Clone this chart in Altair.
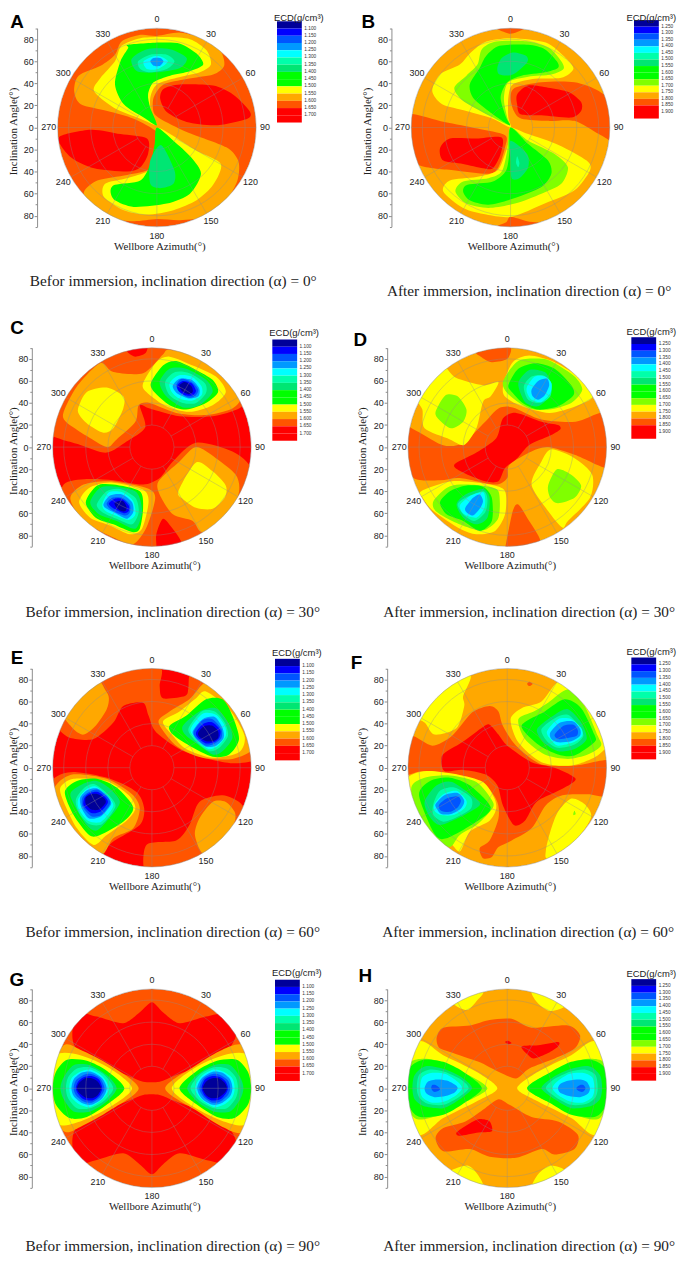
import math
import altair as alt
import pandas as pd

# ECD colour levels, low to high
LEVEL_KEYS = ['nv', 'bl', 'b2', 'b3', 'cy', 'sp', 'te', 'gr', 'lg', 'ye', 'or', 'do', 're']
LEVEL_COLORS = ['#000099', '#0000ff', '#0055ff', '#0099ff', '#00ffff', '#00ffaa', '#00e673',
                '#00ff00', '#80ff00', '#ffff00', '#ffa800', '#ff5500', '#ff0000']

BEFORE_LABELS = ['1.100', '1.150', '1.200', '1.250', '1.300', '1.350', '1.400', '1.450',
                 '1.500', '1.550', '1.600', '1.650', '1.700']
BEFORE_BLOCKS = ['nv', 'bl', 'b2', 'b3', 'cy', 'sp', 'te', 'gr', 'gr', 'ye', 'or', 'do', 're', 're']
AFTER_LABELS = ['1.250', '1.300', '1.350', '1.400', '1.450', '1.500', '1.550', '1.600', '1.650',
                '1.700', '1.750', '1.800', '1.850', '1.900']
AFTER_BLOCKS = ['nv', 'bl', 'b2', 'b3', 'cy', 'sp', 'te', 'gr', 'gr', 'lg', 'ye', 'or', 'do', 're', 're']

AZIMUTHS = [0, 30, 60, 90, 120, 150, 180, 210, 240, 270, 300, 330]
RINGS = [20, 40, 60, 80]
INCL_TICKS = [-80, -60, -40, -20, 0, 20, 40, 60, 80]
INCL_MINOR = [-90, -70, -50, -30, -10, 10, 30, 50, 70, 90]

# contour regions per panel, in draw order: (level, [(east, north), ...]) in inclination degrees
PANEL_A = [
    ('or', [(0,83),(21,86),(45,80),(58,69),(61,56),(51,48),(27,44),(6,39),(-3,27),(-3,14),(3,8),(27,-4),(63,-18),(74,-31),(73,-48),(63,-66),(45,-81),(21,-84),(0,-83),(-21,-85),(-42,-82),(-62,-69),(-66,-58),(-54,-48),(-27,-43),(-6,-37),(-1,-15),(0,-4),(-21,8),(-45,15),(-69,21),(-75,33),(-71,47),(-51,56),(-38,66),(-32,78),(-15,84)]),
    ('ye', [(9,82),(30,80),(45,70),(49,57),(39,50),(18,45),(0,39),(-6,27),(-5,12),(0,2),(-15,8),(-39,18),(-57,33),(-51,45),(-38,60),(-32,74),(-15,81)]),
    ('ye', [(0,-1),(9,-4),(36,-21),(58,-33),(51,-52),(36,-66),(15,-75),(-9,-79),(-30,-75),(-48,-63),(-47,-51),(-27,-46),(-9,-40),(-3,-30),(0,-15)]),
    ('gr', [(-26,75),(3,77),(21,76),(36,67),(42,57),(30,51),(12,47),(-3,41),(-8,30),(-6,18),(0,2),(-12,9),(-30,21),(-38,39),(-33,60),(-26,72)]),
    ('gr', [(0,0),(15,-12),(31,-27),(40,-42),(30,-60),(9,-69),(-21,-72),(-38,-66),(-42,-58),(-38,-52),(-15,-48),(-6,-33),(-2,-15)]),
    ('te', [(-23,62),(-9,71),(12,71),(27,63),(21,54),(0,50),(-18,51)]),
    ('te', [(4,-16),(16,-39),(15,-51),(3,-55),(-6,-51),(-6,-30)]),
    ('sp', [(-17,60),(-6,66),(9,66),(16,60),(9,53),(-6,50),(-15,53)]),
    ('cy', [(-12,60),(0,65),(10,60),(1,53),(-9,53)]),
    ('b3', [(-6,60),(-3,63),(3,63),(6,60),(3,56),(-3,56)]),
    ('re', [(6,35),(21,39),(51,38),(69,30),(84,15),(82,8),(54,2),(27,5),(9,14),(3,26)]),
    ('re', [(-89,-9),(-60,-2),(-33,-6),(-9,-10),(-8,-24),(-15,-36),(-27,-40),(-57,-37),(-78,-27)]),
]
PANEL_B = [
    ('do', [(-24,95),(24,95),(12,89),(0,85),(-12,89)]),
    ('do', [(-14,-92),(-4,-86),(0,-81),(15,-85),(35,-88),(30,-95)]),
    ('do', [(4,36),(28,41),(58,41),(80,33),(95,18),(95,-12),(80,-6),(58,6),(34,6),(10,8),(3,15),(0,27)]),
    ('do', [(-95,12),(-60,5),(-30,-1),(-5,-7),(-5,-18),(-11,-36),(-20,-42),(-50,-39),(-83,-34),(-95,-15)]),
    ('re', [(6,30),(16,38),(34,36),(53,32),(64,23),(64,15),(55,9),(28,11),(9,12),(6,21)]),
    ('re', [(-64,-19),(-55,-10),(-31,-10),(-8,-9),(-9,-24),(-16,-37),(-25,-37),(-43,-33),(-61,-30)]),
    ('ye', [(-36,68),(-22,78),(2,81),(32,77),(50,63),(57,53),(46,45),(20,44),(2,39),(-2,27),(-2,9),(0,0),(-16,8),(-40,15),(-62,21),(-71,33),(-64,48),(-46,57)]),
    ('ye', [(0,0),(16,-6),(44,-16),(69,-30),(72,-39),(58,-57),(31,-69),(1,-81),(-22,-79),(-43,-73),(-61,-58),(-55,-48),(-31,-45),(-12,-39),(-4,-21),(-1,-9)]),
    ('lg', [(-26,71),(-13,78),(16,78),(35,72),(46,60),(48,53),(37,48),(16,46),(-2,41),(-6,26),(-3,9),(-1,2),(-20,11),(-43,24),(-51,36),(-40,47),(-30,57)]),
    ('lg', [(0,0),(16,-12),(40,-24),(52,-36),(46,-51),(28,-60),(4,-69),(-20,-73),(-40,-69),(-50,-58),(-43,-49),(-20,-46),(-8,-40),(-3,-21)]),
    ('gr', [(-22,65),(-10,74),(16,75),(31,71),(42,60),(43,54),(31,50),(10,47),(-3,41),(-9,27),(-4,9),(-1,2),(-20,15),(-34,27),(-37,39),(-28,54)]),
    ('gr', [(0,0),(16,-15),(34,-30),(37,-42),(28,-54),(4,-64),(-20,-70),(-37,-66),(-43,-58),(-39,-52),(-16,-49),(-4,-39),(-1,-21)]),
    ('te', [(-12,54),(-8,63),(2,68),(14,65),(15,59),(2,48),(-10,48)]),
    ('te', [(0,-12),(15,-24),(16,-36),(8,-46),(1,-46),(0,-30)]),
    ('sp', [(6,-26),(8,-32),(7,-36),(5,-32)]),
]
PANEL_C = [
    ('do', [(-95,13),(-65,2),(-41,-5),(-23,5),(-6,18),(-11,38),(-2,35),(25,28),(55,28),(79,35),(85,45),(70,75),(30,92),(-5,98),(-50,85),(-80,60),(-95,35)]),
    ('re', [(-23,90),(-5,92),(-6,85),(-15,82),(-21,85)]),
    ('do', [(-80,-34),(-59,-29),(-35,-30),(-8,-34),(7,-28),(19,-13),(40,4),(73,-4),(90,-20),(85,-50),(65,-80),(30,-95),(-20,-95),(-60,-85),(-85,-60)]),
    ('re', [(4,-91),(4,-79),(10,-65),(18,-73),(27,-88),(14,-97),(1,-97)]),
    ('or', [(-80,32),(-68,55),(-47,76),(-35,68),(-8,67),(10,84),(16,88),(50,82),(68,62),(81,46),(73,35),(49,29),(22,31),(-2,40),(-12,38),(-15,23),(-32,7),(-41,0),(-59,10),(-78,23)]),
    ('ye', [(-67,35),(-59,50),(-41,54),(-26,46),(-26,35),(-35,17),(-44,13),(-57,20),(-65,28)]),
    ('ye', [(-8,58),(4,77),(16,82),(37,74),(58,64),(67,50),(55,38),(34,32),(13,37),(-5,50)]),
    ('gr', [(-1,58),(10,74),(22,78),(40,70),(55,61),(60,50),(49,40),(31,34),(16,38),(3,49)]),
    ('te', [(7,59),(16,71),(31,71),(49,61),(55,50),(43,38),(28,36),(13,46)]),
    ('sp', [(12,59),(21,68),(34,67),(48,58),(49,49),(40,40),(28,40),(16,47)]),
    ('cy', [(16,58),(24,65),(36,64),(45,55),(45,47),(36,42),(25,44),(18,50)]),
    ('b3', [(19,56),(25,62),(36,61),(43,53),(42,46),(34,44),(24,48),(20,52)]),
    ('b2', [(22,56),(27,62),(36,59),(42,52),(39,46),(33,45),(25,50)]),
    ('bl', [(23,56),(28,60),(36,58),(40,51),(37,47),(30,47),(24,51)]),
    ('nv', [(25,56),(30,59),(36,55),(37,50),(33,48),(27,51)]),
    ('or', [(6,-31),(25,-13),(40,0),(58,-10),(76,-25),(79,-40),(70,-64),(46,-77),(37,-67),(19,-61),(7,-43)]),
    ('or', [(-74,-46),(-62,-34),(-38,-31),(-5,-37),(3,-46),(-5,-73),(-17,-88),(-35,-82),(-53,-73),(-65,-64)]),
    ('ye', [(24,-40),(40,-14),(55,-22),(67,-35),(66,-46),(55,-56),(40,-55),(28,-47)]),
    ('ye', [(-66,-50),(-57,-37),(-38,-32),(-9,-38),(-3,-49),(-9,-74),(-20,-79),(-38,-71),(-56,-64)]),
    ('gr', [(-60,-50),(-50,-35),(-35,-34),(-11,-40),(-8,-55),(-11,-74),(-18,-77),(-35,-70),(-51,-64)]),
    ('te', [(-56,-50),(-47,-37),(-32,-36),(-14,-41),(-9,-58),(-15,-74),(-32,-67),(-48,-61)]),
    ('sp', [(-50,-52),(-41,-40),(-29,-38),(-15,-46),(-12,-59),(-18,-70),(-32,-65),(-45,-59)]),
    ('cy', [(-45,-52),(-39,-41),(-27,-41),(-17,-49),(-15,-61),(-21,-66),(-33,-62),(-42,-58)]),
    ('b3', [(-44,-52),(-38,-44),(-27,-43),(-18,-50),(-17,-59),(-23,-65),(-33,-60),(-41,-56)]),
    ('b2', [(-41,-51),(-36,-46),(-27,-46),(-20,-52),(-20,-59),(-24,-62),(-33,-59),(-39,-55)]),
    ('bl', [(-39,-51),(-34,-47),(-27,-47),(-21,-53),(-21,-58),(-25,-60),(-32,-57),(-37,-54)]),
    ('nv', [(-34,-51),(-31,-49),(-26,-49),(-23,-54),(-24,-58),(-28,-58),(-32,-55)]),
]
PANEL_D = [
    ('do', [(-95,20),(-59,2),(-40,4),(-20,23),(-8,35),(5,36),(31,25),(62,23),(87,31),(97,15),(97,-20),(61,-7),(37,0),(22,-4),(2,-16),(0,-28),(-11,-34),(-43,-28),(-61,-30),(-85,-28),(-97,-5)]),
    ('re', [(-48,-16),(-28,-5),(-10,8),(-4,26),(8,31),(31,23),(46,20),(48,16),(38,10),(20,2),(9,-10),(-2,-19),(-8,-31),(-20,-31),(-40,-23)]),
    ('do', [(-27,86),(2,91),(0,80),(-14,77),(-24,82)]),
    ('do', [(-2,-92),(5,-58),(10,-52),(18,-64),(30,-85),(20,-94),(-2,-95)]),
    ('ye', [(-77,34),(-84,50),(-62,76),(-47,63),(-22,56),(-8,59),(-15,46),(-22,41),(-28,17),(-39,2),(-52,7),(-75,17)]),
    ('lg', [(-65,32),(-56,47),(-45,46),(-37,34),(-40,23),(-51,17),(-62,25)]),
    ('ye', [(-3,59),(5,77),(20,83),(43,77),(67,62),(78,46),(62,37),(38,31),(11,38),(-3,47)]),
    ('lg', [(-4,59),(10,78),(32,80),(43,76),(61,64),(68,52),(58,40),(38,34),(20,35),(2,47)]),
    ('gr', [(1,56),(10,71),(26,76),(43,71),(58,56),(60,47),(46,37),(28,34),(14,40),(5,49)]),
    ('te', [(10,58),(20,70),(34,68),(39,59),(38,46),(28,37),(16,41)]),
    ('sp', [(15,55),(22,64),(33,65),(40,58),(39,46),(30,40),(19,43)]),
    ('cy', [(18,55),(25,64),(34,64),(40,58),(39,49),(31,41),(22,43),(18,49)]),
    ('b3', [(22,52),(28,60),(36,62),(38,56),(34,47),(28,43),(23,46)]),
    ('ye', [(22,-34),(31,-13),(40,-2),(61,-10),(77,-25),(75,-46),(55,-67),(50,-73),(37,-58)]),
    ('lg', [(37,-35),(45,-20),(58,-25),(67,-35),(61,-46),(46,-51),(39,-46)]),
    ('ye', [(-78,-40),(-50,-31),(-16,-34),(-2,-40),(-2,-61),(-11,-76),(-28,-79),(-43,-74),(-67,-58),(-76,-47)]),
    ('lg', [(-67,-49),(-55,-37),(-43,-34),(-22,-35),(-8,-40),(-8,-64),(-20,-75),(-32,-74),(-50,-67),(-65,-58)]),
    ('gr', [(-61,-50),(-52,-40),(-38,-35),(-22,-36),(-14,-46),(-14,-67),(-25,-76),(-40,-67),(-55,-61)]),
    ('te', [(-46,-52),(-38,-43),(-22,-38),(-16,-46),(-18,-64),(-28,-70),(-40,-64)]),
    ('sp', [(-45,-52),(-38,-46),(-22,-40),(-18,-47),(-20,-59),(-30,-67),(-40,-61)]),
    ('cy', [(-43,-53),(-33,-44),(-22,-41),(-20,-47),(-21,-56),(-28,-64),(-39,-61)]),
    ('b3', [(-38,-55),(-31,-46),(-25,-43),(-22,-49),(-25,-56),(-31,-62),(-37,-59)]),
]
PANEL_E = [
    ('do', [(-83,33),(-74,27),(-53,26),(-35,41),(-26,56),(-8,59),(-3,47),(4,32),(31,14),(73,4),(100,11),(97,41),(67,80),(40,92),(34,84),(33,72),(30,65),(10,63),(7,74),(7,92),(-32,95),(-68,77),(-95,44)]),
    ('or', [(-72,36),(-80,52),(-52,80),(-42,70),(-39,63),(-41,53),(-51,38),(-62,30)]),
    ('or', [(6,41),(16,51),(34,62),(48,77),(62,72),(85,45),(92,18),(73,8),(46,9),(22,20)]),
    ('ye', [(10,42),(25,51),(40,63),(49,69),(70,53),(84,29),(79,14),(55,9),(31,17),(19,29)]),
    ('gr', [(16,38),(31,47),(49,62),(64,62),(73,47),(79,26),(70,12),(55,10),(34,20),(19,30)]),
    ('te', [(28,38),(43,51),(58,54),(69,41),(73,27),(64,15),(55,12),(39,23),(30,30)]),
    ('sp', [(33,35),(45,51),(57,51),(66,41),(69,29),(61,18),(52,15),(40,24)]),
    ('cy', [(35,35),(46,49),(58,48),(66,38),(67,29),(60,20),(51,17),(40,26)]),
    ('b3', [(37,33),(46,44),(57,46),(64,36),(65,27),(58,20),(49,19),(40,26)]),
    ('b2', [(38,33),(46,43),(55,44),(63,35),(63,27),(57,22),(49,20),(40,27)]),
    ('bl', [(40,32),(47,40),(55,41),(62,34),(61,27),(56,23),(49,22),(42,27)]),
    ('nv', [(42,32),(48,38),(55,38),(60,33),(60,27),(55,24),(49,24),(43,28)]),
    ('do', [(-89,-10),(-71,-4),(-38,-10),(-14,-22),(-7,-37),(-11,-52),(-35,-67),(-44,-76),(-56,-85),(-80,-65),(-100,-30)]),
    ('do', [(-5,-70),(22,-66),(34,-52),(43,-31),(64,-25),(82,-34),(90,-60),(60,-88),(25,-97),(-5,-97)]),
    ('or', [(39,-61),(43,-46),(55,-31),(67,-31),(75,-40),(75,-49),(66,-65),(47,-78)]),
    ('or', [(-87,-16),(-71,-6),(-41,-10),(-18,-24),(-11,-37),(-17,-55),(-35,-64),(-44,-78),(-56,-75),(-74,-55),(-95,-40)]),
    ('ye', [(-83,-18),(-71,-10),(-41,-12),(-21,-25),(-15,-37),(-23,-48),(-41,-61),(-53,-70),(-68,-55),(-80,-31)]),
    ('gr', [(-79,-22),(-68,-12),(-50,-10),(-32,-18),(-17,-36),(-26,-49),(-47,-61),(-57,-61),(-71,-43)]),
    ('te', [(-74,-25),(-63,-15),(-50,-12),(-38,-19),(-29,-31),(-38,-45),(-50,-57),(-60,-51)]),
    ('sp', [(-69,-29),(-61,-18),(-52,-15),(-40,-24),(-33,-35),(-45,-51),(-57,-51),(-66,-41)]),
    ('cy', [(-67,-29),(-60,-20),(-51,-17),(-40,-26),(-35,-35),(-46,-49),(-58,-48),(-66,-38)]),
    ('b3', [(-65,-27),(-58,-20),(-49,-19),(-40,-26),(-37,-33),(-46,-44),(-57,-46),(-64,-36)]),
    ('b2', [(-63,-27),(-57,-22),(-49,-20),(-40,-27),(-38,-33),(-46,-43),(-55,-44),(-63,-35)]),
    ('bl', [(-61,-27),(-56,-23),(-49,-22),(-42,-27),(-40,-32),(-47,-40),(-55,-41),(-62,-34)]),
    ('nv', [(-60,-27),(-55,-24),(-49,-24),(-43,-28),(-42,-32),(-48,-38),(-55,-38),(-60,-33)]),
]
PANEL_F = [
    ('ye', [(-75,41),(-66,30),(-46,36),(-39,56),(-40,65),(-33,83),(-45,88),(-70,75),(-90,50)]),
    ('do', [(-88,29),(-68,20),(-50,29),(-32,50),(-16,56),(-8,51),(-4,38),(8,20),(31,3),(62,2),(95,6),(95,-25),(73,-24),(50,-25),(35,-34),(22,-55),(4,-66),(-8,-72),(-14,-81),(-22,-82),(-25,-73),(-16,-66),(-8,-46),(-9,-31),(-20,-16),(-43,-7),(-76,-3),(-95,-7),(-98,10)]),
    ('re', [(-59,11),(-41,23),(-22,37),(-16,39),(-8,30),(0,20),(22,5),(43,0),(62,-10),(50,-19),(31,-28),(24,-34),(16,-48),(6,-52),(-4,-34),(-9,-16),(-20,-6),(-40,-2),(-57,-3)]),
    ('do', [(18,76),(20,78),(23,76),(20,74)]),
    ('ye', [(3,44),(13,54),(31,60),(45,77),(60,78),(85,50),(95,28),(82,11),(58,2),(31,5),(10,23)]),
    ('lg', [(10,44),(24,51),(37,59),(55,71),(70,56),(82,29),(85,20),(73,12),(55,8),(34,12),(16,26)]),
    ('gr', [(13,38),(34,51),(52,62),(67,54),(79,30),(79,23),(61,11),(46,12),(28,21)]),
    ('te', [(27,35),(43,48),(55,53),(67,41),(72,26),(61,17),(46,15),(33,23)]),
    ('sp', [(31,35),(45,46),(55,48),(64,39),(69,29),(61,21),(46,18),(36,24)]),
    ('cy', [(36,33),(46,44),(58,44),(67,36),(68,29),(60,23),(46,20),(39,26)]),
    ('b3', [(39,32),(48,41),(60,42),(66,35),(66,29),(58,24),(46,23),(40,26)]),
    ('b2', [(43,30),(51,38),(60,39),(64,34),(63,29),(55,27),(46,26)]),
    ('ye', [(35,-75),(39,-58),(46,-40),(58,-28),(70,-33),(76,-45),(61,-67),(37,-82)]),
    ('lg', [(61,-39),(62,-42),(60,-43),(60,-41)]),
    ('ye', [(-90,-9),(-73,-3),(-46,-6),(-22,-13),(-12,-27),(-10,-37),(-16,-48),(-34,-58),(-43,-76),(-53,-67),(-70,-60),(-92,-30)]),
    ('lg', [(-87,-18),(-75,-9),(-52,-7),(-28,-13),(-13,-31),(-15,-39),(-28,-52),(-43,-61),(-52,-72),(-64,-64),(-81,-46)]),
    ('gr', [(-80,-25),(-70,-12),(-52,-9),(-34,-16),(-15,-36),(-28,-49),(-55,-64),(-66,-60)]),
    ('te', [(-75,-31),(-64,-16),(-50,-13),(-30,-27),(-25,-34),(-43,-45),(-61,-52),(-70,-45)]),
    ('sp', [(-67,-33),(-61,-21),(-48,-18),(-33,-27),(-33,-37),(-46,-45),(-58,-49),(-67,-43)]),
    ('cy', [(-66,-33),(-58,-24),(-46,-21),(-37,-30),(-39,-37),(-49,-43),(-60,-43),(-66,-39)]),
    ('b3', [(-65,-33),(-57,-25),(-45,-23),(-39,-30),(-42,-37),(-51,-42),(-60,-42),(-64,-37)]),
    ('b2', [(-62,-34),(-55,-28),(-45,-26),(-42,-30),(-45,-36),(-52,-40),(-60,-39)]),
]
PANEL_G = [
    ('re', [(-72,45),(-68,68),(-50,65),(-26,59),(-11,69),(0,78),(10,69),(25,59),(49,65),(72,68),(76,47),(61,27),(22,12),(7,6),(-8,6),(-23,12),(-62,27)]),
    ('re', [(-72,-45),(-68,-68),(-50,-65),(-26,-59),(-11,-69),(0,-78),(10,-69),(25,-59),(49,-65),(72,-68),(76,-47),(61,-27),(22,-12),(7,-6),(-8,-6),(-23,-12),(-62,-27)]),
    ('or', [(-81,38),(-65,35),(-38,21),(-12,0),(-38,-20),(-65,-35),(-81,-38),(-100,0)]),
    ('ye', [(-87,30),(-65,30),(-38,18),(-18,0),(-38,-17),(-65,-30),(-87,-32),(-100,0)]),
    ('gr', [(-87,15),(-77,26),(-59,25),(-41,16),(-25,0),(-41,-15),(-59,-26),(-75,-27),(-87,-15),(-90,0)]),
    ('te', [(-80,10),(-71,21),(-56,21),(-41,12),(-32,0),(-41,-12),(-56,-21),(-71,-21),(-80,-10),(-83,0)]),
    ('sp', [(-76,10),(-68,18),(-56,19),(-43,12),(-35,0),(-43,-11),(-56,-18),(-68,-18),(-76,-9),(-78,0)]),
    ('cy', [(-73,9),(-65,15),(-56,17),(-45,11),(-39,0),(-45,-10),(-56,-17),(-65,-15),(-73,-8),(-75,0)]),
    ('b3', [(-71,8),(-64,14),(-55,15),(-45,9),(-41,0),(-45,-9),(-55,-15),(-64,-13),(-71,-7),(-73,0)]),
    ('b2', [(-69,7),(-62,12),(-55,13),(-47,9),(-43,0),(-47,-8),(-55,-13),(-62,-12),(-69,-6),(-71,0)]),
    ('bl', [(-67,6),(-62,10),(-54,11),(-48,8),(-45,0),(-48,-7),(-54,-11),(-62,-10),(-67,-5),(-69,0)]),
    ('nv', [(-66,5),(-61,9),(-54,9),(-49,6),(-46,0),(-49,-6),(-54,-9),(-61,-8),(-66,-4),(-68,0)]),
    ('or', [(12,0),(40,21),(64,35),(84,38),(100,0),(84,-39),(64,-35),(40,-20)]),
    ('ye', [(18,0),(38,18),(65,30),(87,30),(100,0),(87,-32),(65,-30),(38,-17)]),
    ('gr', [(25,0),(41,16),(59,25),(77,26),(87,15),(90,0),(87,-15),(75,-27),(59,-26),(41,-15)]),
    ('te', [(32,0),(41,12),(56,21),(71,21),(80,10),(83,0),(80,-10),(71,-21),(56,-21),(41,-12)]),
    ('sp', [(35,0),(43,12),(56,19),(68,18),(76,10),(78,0),(76,-9),(68,-18),(56,-18),(43,-11)]),
    ('cy', [(39,0),(45,11),(56,17),(65,15),(73,9),(75,0),(73,-8),(65,-15),(56,-17),(45,-10)]),
    ('b3', [(41,0),(45,9),(55,15),(64,14),(71,8),(73,0),(71,-7),(64,-13),(55,-15),(45,-9)]),
    ('b2', [(43,0),(47,9),(55,13),(62,12),(69,7),(71,0),(69,-6),(62,-12),(55,-13),(47,-8)]),
    ('bl', [(45,0),(48,8),(54,11),(62,10),(67,6),(69,0),(67,-5),(62,-10),(54,-11),(48,-7)]),
    ('nv', [(46,0),(49,6),(54,9),(61,9),(66,5),(68,0),(66,-4),(61,-8),(54,-9),(49,-6)]),
]
PANEL_H = [
    ('ye', [(-47,75),(-36,71),(-27,80),(-22,88),(-40,92),(-55,85)]),
    ('ye', [(22,87),(28,77),(39,70),(53,75),(50,90),(30,95)]),
    ('ye', [(-52,-75),(-36,-70),(-27,-78),(-22,-90),(-40,-95),(-60,-85)]),
    ('ye', [(22,-90),(28,-78),(39,-70),(53,-75),(50,-90),(30,-95)]),
    ('do', [(-64,46),(-58,55),(-34,57),(-16,62),(4,63),(22,55),(55,57),(66,48),(61,36),(43,27),(20,18),(8,9),(-8,15),(-26,24),(-52,33),(-62,37)]),
    ('do', [(-65,-45),(-58,-36),(-38,-30),(-20,-18),(-8,-10),(2,-15),(22,-26),(46,-30),(64,-42),(61,-55),(43,-60),(31,-55),(8,-63),(-16,-62),(-34,-55),(-58,-57)]),
    ('re', [(-2,42),(1,43),(4,41),(1,40)]),
    ('re', [(13,38),(28,39),(46,42),(46,38),(37,32),(24,27),(18,31)]),
    ('re', [(-46,-40),(-36,-33),(-26,-28),(-16,-30),(-14,-39),(-26,-40),(-43,-43)]),
    ('ye', [(-81,42),(-58,30),(-28,15),(-9,0),(-28,-12),(-58,-27),(-81,-42),(-100,0)]),
    ('lg', [(-87,24),(-67,26),(-43,16),(-18,0),(-43,-15),(-64,-25),(-84,-27),(-96,0)]),
    ('gr', [(-88,19),(-76,26),(-58,24),(-40,15),(-23,0),(-40,-14),(-58,-24),(-79,-26),(-88,-18),(-92,0)]),
    ('te', [(-84,12),(-74,20),(-56,17),(-40,9),(-32,0),(-43,-10),(-58,-18),(-76,-16),(-84,-10),(-86,0)]),
    ('sp', [(-80,12),(-70,17),(-57,15),(-42,8),(-35,0),(-44,-8),(-58,-15),(-72,-14),(-80,-8),(-82,0)]),
    ('cy', [(-77,10),(-68,14),(-56,13),(-45,6),(-41,0),(-46,-6),(-57,-12),(-68,-13),(-77,-8),(-79,0)]),
    ('b3', [(-72,6),(-64,8),(-55,7),(-47,3),(-45,0),(-48,-4),(-56,-7),(-66,-8),(-73,-5),(-75,0)]),
    ('b2', [(-68,3),(-65,3),(-62,1),(-61,-1),(-64,-3),(-67,-3),(-69,0)]),
    ('ye', [(9,0),(28,15),(58,30),(81,42),(100,0),(81,-42),(58,-27),(28,-12)]),
    ('lg', [(18,0),(43,16),(67,26),(87,24),(96,0),(84,-27),(64,-25),(43,-15)]),
    ('gr', [(18,0),(40,15),(58,24),(76,26),(88,19),(92,0),(88,-18),(79,-26),(58,-24),(40,-14)]),
    ('te', [(31,0),(40,9),(56,17),(74,20),(84,12),(86,0),(84,-10),(76,-16),(58,-18),(43,-10)]),
    ('sp', [(35,0),(42,8),(57,15),(70,17),(80,12),(82,0),(80,-8),(72,-14),(58,-15),(44,-8)]),
    ('cy', [(41,0),(45,6),(56,13),(68,14),(77,10),(79,0),(77,-8),(68,-13),(57,-12),(46,-6)]),
    ('b3', [(46,0),(48,4),(56,7),(66,8),(72,6),(75,0),(73,-5),(66,-8),(56,-7),(48,-4)]),
    ('b2', [(63,1),(66,3),(69,3),(71,0),(69,-3),(66,-3),(63,-1)]),
]

CAPTIONS = {
    'A': 'Befor immersion, inclination direction (α) = 0°',
    'B': 'After immersion, inclination direction (α) = 0°',
    'C': 'Befor immersion, inclination direction (α) = 30°',
    'D': 'After immersion, inclination direction (α) = 30°',
    'E': 'Befor immersion, inclination direction (α) = 60°',
    'F': 'After immersion, inclination direction (α) = 60°',
    'G': 'Befor immersion, inclination direction (α) = 90°',
    'H': 'After immersion, inclination direction (α) = 90°',
}

COL_LEFT = [8, 345]
COL_WIDTH = 300
COL_GAP = 37
ROW_TOP = [8, 328, 648, 968]
ROW_HEIGHT = 285
ROW_GAP = 35
RADIUS = 100

# page positions: disc centre, axis x, legend box, letter, caption
LAYOUT = {
    'A': dict(col=0, row=0, base='do', poly=PANEL_A, c=(157, 123.7), ax=36.3, leg=(278, 16.7, 118.7), let=(16, 17.5), cap=(173.5, 278), legt=13),
    'B': dict(col=1, row=0, base='or', poly=PANEL_B, c=(513.3, 123.7), ax=393.3, leg=(637.7, 15.5, 114.7), let=(370, 17.5), cap=(532, 288), legt=13),
    'C': dict(col=0, row=1, base='re', poly=PANEL_C, c=(152, 445.7), ax=31, leg=(273.3, 337.3, 439.3), let=(16, 326), cap=(173, 611.7), legt=331),
    'D': dict(col=1, row=1, base='or', poly=PANEL_D, c=(510, 445.7), ax=389, leg=(635, 335, 437.3), let=(362, 338), cap=(532, 611.7), legt=330),
    'E': dict(col=0, row=2, base='re', poly=PANEL_E, c=(152, 768.7), ax=31, leg=(276, 659, 761.3), let=(16, 658), cap=(173, 934), legt=653),
    'F': dict(col=1, row=2, base='or', poly=PANEL_F, c=(510, 768.7), ax=389, leg=(635, 657.7, 760.3), let=(358, 663), cap=(531, 934), legt=652),
    'G': dict(col=0, row=3, base='do', poly=PANEL_G, c=(152, 1091.7), ax=31, leg=(276, 982.3, 1084.3), let=(16, 983), cap=(173, 1251), legt=976),
    'H': dict(col=1, row=3, base='or', poly=PANEL_H, c=(510, 1091.7), ax=389, leg=(635, 981.7, 1084), let=(367, 979), cap=(532, 1251), legt=977),
}


def disc_size(r):
    # vega symbol size for a circle of radius r
    return (2 * r) ** 2


def label_mark(text, x, y, size, font='Liberation Sans', color='#222222', **kw):
    src = alt.Chart(pd.DataFrame({'t': [text]}))
    return src.mark_text(fontSize=size, font=font, color=color, clip=False, **kw).encode(
        text='t:N', x=alt.value(x), y=alt.value(y))


def make_panel(name):
    p = LAYOUT[name]
    left, top = COL_LEFT[p['col']], ROW_TOP[p['row']]
    cx, cy = p['c'][0] - left, p['c'][1] - top

    x_scale = alt.Scale(domain=[-90, 90], range=[cx - RADIUS, cx + RADIUS])
    y_scale = alt.Scale(domain=[-90, 90], range=[cy + RADIUS, cy - RADIUS])
    xe = alt.X('x:Q', scale=x_scale, axis=None)
    ye = alt.Y('y:Q', scale=y_scale, axis=None)
    origin = pd.DataFrame({'x': [0], 'y': [0]})
    layers = []

    # base disc with real inclination axis
    y_axis = alt.Axis(values=INCL_TICKS, labelExpr='abs(datum.value)', title=None, grid=False,
                      offset=-(p['ax'] - left), zindex=1, orient='left', domainColor='#8c8c8c',
                      tickColor='#8c8c8c', tickSize=3, labelFont='Liberation Sans', labelFontSize=9,
                      labelColor='#222222', labelPadding=1)
    layers.append(alt.Chart(origin).mark_point(
        filled=True, size=disc_size(RADIUS), opacity=1,
        color=LEVEL_COLORS[LEVEL_KEYS.index(p['base'])]).encode(
        x=xe, y=alt.Y('y:Q', scale=y_scale, axis=y_axis)))
    minor_axis = alt.Axis(values=INCL_MINOR, labels=False, title=None, grid=False, domain=False,
                          offset=-(p['ax'] - left), zindex=1, orient='left', tickColor='#8c8c8c', tickSize=2)
    layers.append(alt.Chart(origin).mark_point(size=1, opacity=0).encode(
        x=xe, y=alt.Y('y:Q', scale=y_scale, axis=minor_axis)))

    # contour regions
    rows = []
    for pid, (level, pts) in enumerate(p['poly']):
        for i, (east, north) in enumerate(pts):
            rows.append({'pid': pid, 'i': i, 'level': level, 'x': east, 'y': north})
    layers.append(alt.Chart(pd.DataFrame(rows)).mark_line(
        interpolate='cardinal-closed', tension=0.2, strokeWidth=0, clip=True).encode(
        x=xe, y=ye,
        fill=alt.Fill('level:N', scale=alt.Scale(domain=LEVEL_KEYS, range=LEVEL_COLORS), legend=None),
        detail='pid:Q', order='i:Q'))

    # white ring hiding what runs past the rim
    mask_w = 30
    layers.append(alt.Chart(origin).mark_point(
        filled=False, color='white', opacity=1, strokeWidth=mask_w, clip=True,
        size=disc_size(RADIUS + mask_w / 2)).encode(x=xe, y=ye))

    # polar grid
    for ring in RINGS:
        layers.append(alt.Chart(origin).mark_point(
            filled=False, color='#8f8f8f', opacity=0.5, strokeWidth=0.7,
            size=disc_size(ring * RADIUS / 90)).encode(x=xe, y=ye))
    spokes = pd.DataFrame({
        'x': [20 * math.sin(math.radians(a)) for a in AZIMUTHS],
        'y': [20 * math.cos(math.radians(a)) for a in AZIMUTHS],
        'x2': [90 * math.sin(math.radians(a)) for a in AZIMUTHS],
        'y2': [90 * math.cos(math.radians(a)) for a in AZIMUTHS],
    })
    layers.append(alt.Chart(spokes).mark_rule(color='#8f8f8f', opacity=0.5, strokeWidth=0.7).encode(
        x=xe, y=ye, x2='x2:Q', y2='y2:Q'))
    layers.append(alt.Chart(origin).mark_point(
        filled=False, color='#8f8f8f', opacity=0.8, strokeWidth=0.6,
        size=disc_size(RADIUS)).encode(x=xe, y=ye))

    # azimuth labels
    az = pd.DataFrame({
        'x': [98 * math.sin(math.radians(a)) for a in AZIMUTHS],
        'y': [98 * math.cos(math.radians(a)) for a in AZIMUTHS],
        't': [str(a) for a in AZIMUTHS],
    })
    layers.append(alt.Chart(az).mark_text(fontSize=9, font='Liberation Sans', color='#222222').encode(
        x=xe, y=ye, text='t:N'))

    # titles and caption
    serif = 'Liberation Serif'
    title_x = max(p['ax'] - 24, 13.5) - left
    layers.append(label_mark('Wellbore Azimuth(°)', cx + 3, cy + 120, 11, font=serif))
    layers.append(label_mark('Inclination Angle(°)', title_x, cy + 4, 11, font=serif, angle=270))
    layers.append(label_mark(CAPTIONS[name], p['cap'][0] - left, p['cap'][1] - top, 15.4, font=serif))
    layers.append(label_mark(name, p['let'][0] - left, p['let'][1] - top, 19, fontWeight='bold', color='#000000'))

    # colour key
    lx, ly0, ly1 = p['leg']
    lx -= left
    ly0 -= top
    ly1 -= top
    blocks = BEFORE_BLOCKS if p['col'] == 0 else AFTER_BLOCKS
    labels = BEFORE_LABELS if p['col'] == 0 else AFTER_LABELS
    n = len(blocks)
    ky = alt.Scale(domain=[0, n], range=[ly0, ly1])
    key = pd.DataFrame({
        'a': list(range(n)), 'b': list(range(1, n + 1)),
        'c': [LEVEL_COLORS[LEVEL_KEYS.index(k)] for k in blocks],
    })
    layers.append(alt.Chart(key).mark_rect(opacity=1).encode(
        x=alt.value(lx), x2=alt.value(lx + 25),
        y=alt.Y('a:Q', scale=ky, axis=None), y2='b:Q',
        color=alt.Color('c:N', scale=None)))
    ticks = pd.DataFrame({'a': list(range(1, n)), 't': labels})
    layers.append(alt.Chart(ticks).mark_text(
        fontSize=4.8, font='Liberation Sans', color='#333333', align='left').encode(
        x=alt.value(lx + 27.5), y=alt.Y('a:Q', scale=ky, axis=None), text='t:N'))
    layers.append(label_mark('ECD(g/cm³)', min(lx + 22, 655 - left), p['legt'] - top, 9.5))

    return alt.layer(*layers).resolve_scale(
        x='independent', y='independent', fill='independent', color='independent'
    ).properties(width=COL_WIDTH, height=ROW_HEIGHT)


panels = [make_panel(n) for n in 'ABCDEFGH']
chart = alt.concat(*panels, columns=2, bounds='flush',
                   spacing=alt.RowColnumber(row=ROW_GAP, column=COL_GAP)).properties(
    padding=0).configure_view(stroke=None)

chart.save("out.html", embed_options={"renderer": "svg", "actions": False})
